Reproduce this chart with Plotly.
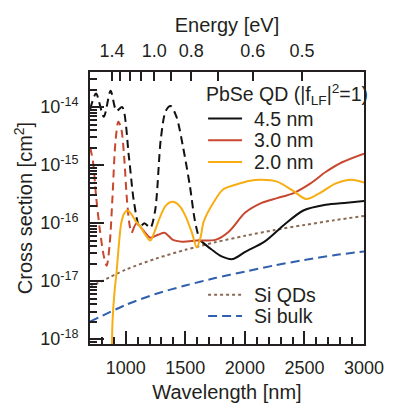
import plotly.graph_objects as go

# ---------------- data ----------------
wl_si = [700, 1000, 1250, 1500, 1750, 2000, 2250, 2500, 2750, 3000]
si_bulk = [2.0e-18, 3.9e-18, 6.0e-18, 8.4e-18, 1.13e-17, 1.46e-17, 1.87e-17, 2.32e-17, 2.8e-17, 3.25e-17]
si_qds = [7.9e-18, 1.58e-17, 2.43e-17, 3.47e-17, 4.67e-17, 6.05e-17, 7.6e-17, 9.3e-17, 1.12e-16, 1.33e-16]

wl_45_dash = [702, 751, 816, 873, 922, 970, 1027, 1068, 1117, 1157, 1206, 1247, 1295, 1336,
              1377, 1426, 1482, 1539, 1580, 1621, 1637]
cs_45_dash = [9.3e-15, 1.71e-14, 6.8e-15, 1.92e-14, 8.6e-15, 1.0e-14, 1.36e-15, 2.4e-16, 8.6e-17,
              1.0e-16, 8.3e-17, 1.65e-16, 2.9e-15, 8.6e-15, 1.04e-14, 6.8e-15, 2.0e-15, 4.3e-16,
              1.12e-16, 5.2e-17, 4.8e-17]
wl_45 = [1637, 1718, 1800, 1897, 2003, 2165, 2328, 2491, 2678, 2856, 3000]
cs_45 = [4.8e-17, 3.55e-17, 2.7e-17, 2.4e-17, 3.2e-17, 4.8e-17, 9.3e-17, 1.65e-16, 2.07e-16, 2.24e-16, 2.4e-16]

wl_30_dash = [702, 726, 751, 783, 816, 840, 865, 889, 913, 938, 962, 987, 1011, 1035, 1052]
cs_30_dash = [2.0e-15, 1.12e-15, 2.9e-16, 7.6e-17, 2.7e-17, 1.85e-17, 4.3e-17, 2.9e-16, 2.4e-15,
              5.6e-15, 4.3e-15, 1.36e-15, 2.4e-16, 8.6e-17, 6.8e-17]
wl_30 = [1052, 1092, 1149, 1206, 1271, 1328, 1393, 1474, 1596, 1759, 1865, 2003, 2141, 2271,
         2409, 2548, 2678, 2816, 3000]
cs_30 = [6.8e-17, 1.0e-16, 7.4e-17, 5.6e-17, 6.3e-17, 6.8e-17, 5.2e-17, 4.8e-17, 5.0e-17, 5.2e-17,
         7.1e-17, 1.52e-16, 2.24e-16, 2.7e-16, 3.3e-16, 4.8e-16, 7.6e-16, 1.12e-15, 1.58e-15]

wl_20 = [881, 889, 905, 922, 946, 962, 987, 1011, 1043, 1084, 1125, 1165, 1206, 1247, 1287, 1336,
         1393, 1450, 1499, 1556, 1596, 1629, 1653, 1735, 1816, 1922, 2043, 2141, 2271, 2409, 2515,
         2629, 2759, 2897, 3000]
cs_20 = [3e-19, 2.0e-18, 6.3e-18, 1.36e-17, 5.2e-17, 1.0e-16, 1.47e-16, 1.65e-16, 1.47e-16, 1.08e-16,
         8.6e-17, 6.3e-17, 5.0e-17, 7.6e-17, 1.26e-16, 2.0e-16, 2.33e-16, 2.0e-16, 1.36e-16, 6.8e-17,
         3.8e-17, 5.8e-17, 1.04e-16, 2.24e-16, 3.8e-16, 4.6e-16, 5.4e-16, 5.6e-16, 5.2e-16, 3.55e-16,
         2.6e-16, 3.3e-16, 4.8e-16, 5.6e-16, 5.0e-16]

energy_ticks = [1.4, 1.3, 1.2, 1.1, 1.0, 0.9, 0.8, 0.7, 0.6, 0.5]
energy_labels = ["1.4", "", "", "", "1.0", "", "0.8", "", "0.6", "0.5"]
x_ticks = [1000, 1500, 2000, 2500, 3000]
y_ticks = [1e-18, 1e-17, 1e-16, 1e-15, 1e-14]
y_labels = ["10<sup>-18</sup>", "10<sup>-17</sup>", "10<sup>-16</sup>", "10<sup>-15</sup>", "10<sup>-14</sup>"]

legend_title = "PbSe QD (|f<sub>LF</sub>|<sup>2</sup>=1)"
legend_top = ["4.5 nm", "3.0 nm", "2.0 nm"]
legend_bottom = ["Si QDs", "Si bulk"]

# ---------------- styles ----------------
BLACK = "#111111"
RED = "#c8472f"
ORANGE = "#f8ad12"
BROWN = "#8a6a55"
BLUE = "#2f5fad"
FONT = "Liberation Sans, Arial, sans-serif"
TXT = "#231f20"
LW = 2
DASH_Q = "8px,5px"
DOT = "3px,3px"
DASH_B = "9px,5px"

fig = go.Figure()

def add(x, y, color, dash):
    fig.add_trace(go.Scatter(
        x=x, y=y, mode="lines", showlegend=False,
        line=dict(color=color, width=LW, dash=dash, shape="spline", smoothing=0.8),
        hoverinfo="skip"))

add(wl_45_dash, cs_45_dash, BLACK, DASH_Q)
add(wl_30_dash, cs_30_dash, RED, DASH_Q)
add(wl_si, si_qds, BROWN, DOT)
add(wl_si, si_bulk, BLUE, DASH_B)
add(wl_45, cs_45, BLACK, "solid")
add(wl_30, cs_30, RED, "solid")
add(wl_20, cs_20, ORANGE, "solid")

# invisible trace to anchor the top (energy) axis
fig.add_trace(go.Scatter(x=[1240 / e for e in energy_ticks], y=[1e-16] * len(energy_ticks),
                         xaxis="x2", mode="markers", marker=dict(opacity=0),
                         showlegend=False, hoverinfo="skip"))

# ---------------- hand-made legends (paper coordinates) ----------------
annotations = []
shapes = []
LX0, LX1, LTX = 0.431, 0.555, 0.590
annotations.append(dict(text=legend_title, x=0.417, y=0.918, xref="paper", yref="paper",
                        xanchor="left", yanchor="middle", showarrow=False,
                        font=dict(size=19.5, family=FONT, color=TXT)))
for name, col, yy in zip(legend_top, [BLACK, RED, ORANGE], [0.829, 0.749, 0.669]):
    shapes.append(dict(type="line", xref="paper", yref="paper", x0=LX0, x1=LX1, y0=yy, y1=yy,
                       line=dict(color=col, width=LW)))
    annotations.append(dict(text=name, x=LTX, y=yy, xref="paper", yref="paper", xanchor="left",
                            yanchor="middle", showarrow=False,
                            font=dict(size=19.5, family=FONT, color=TXT)))
for name, col, dash, yy in zip(legend_bottom, [BROWN, BLUE], [DOT, DASH_B], [0.181, 0.103]):
    shapes.append(dict(type="line", xref="paper", yref="paper", x0=LX0, x1=LX1, y0=yy, y1=yy,
                       line=dict(color=col, width=LW, dash=dash)))
    annotations.append(dict(text=name, x=LTX, y=yy, xref="paper", yref="paper", xanchor="left",
                            yanchor="middle", showarrow=False,
                            font=dict(size=19.5, family=FONT, color=TXT)))

axis_common = dict(showline=True, linecolor=TXT, linewidth=2, ticks="inside",
                   tickcolor=TXT, tickwidth=1.5, showgrid=False, zeroline=False,
                   tickfont=dict(size=18, family=FONT, color=TXT))

fig.update_layout(
    width=396, height=412,
    margin=dict(l=90, r=23, t=72, b=59),
    paper_bgcolor="white", plot_bgcolor="white",
    font=dict(family=FONT, size=18, color=TXT),
    showlegend=False,
    annotations=annotations, shapes=shapes,
    xaxis=dict(range=[700, 3000], tickvals=x_ticks, ticklen=13,
               minor=dict(dtick=100, tick0=0, ticks="inside", ticklen=7, tickcolor=TXT, tickwidth=1.5),
               title=dict(text="Wavelength [nm]", font=dict(size=20), standoff=8),
               ticklabelstandoff=6, **axis_common),
    xaxis2=dict(range=[700, 3000], overlaying="x", side="top", anchor="y",
                tickmode="array", tickvals=[1240 / e for e in energy_ticks], ticktext=energy_labels,
                ticklen=9, title=dict(text="Energy [eV]", font=dict(size=20), standoff=3),
                ticklabelstandoff=6, **axis_common),
    yaxis=dict(type="log", range=[-18.083, -13.395], tickvals=y_ticks, ticktext=y_labels,
               ticklen=14, mirror=True,
               minor=dict(tickvals=[k * 10.0 ** n for n in range(-19, -13) for k in range(2, 10)],
                          ticks="inside", ticklen=7, tickcolor=TXT, tickwidth=1.5),
               title=dict(text="Cross section [cm<sup>2</sup>]", font=dict(size=20), standoff=2),
               ticklabelstandoff=6, **axis_common),
)

fig.write_html("out.html")
